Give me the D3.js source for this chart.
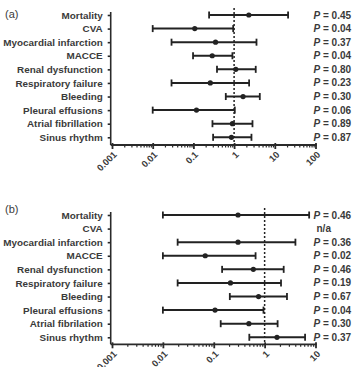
<!DOCTYPE html>
<html>
<head>
<meta charset="utf-8">
<script src="https://cdn.jsdelivr.net/npm/d3@7"></script>
<style>
  html, body { margin: 0; padding: 0; background: #fff; }
  svg { display: block; font-family: "Liberation Sans", Arial, sans-serif; }
  .cat text { font-size: 9.9px; font-weight: bold; fill: #3a3a3a; }
  .xlab { font-size: 9.3px; font-weight: bold; fill: #3a3a3a; }
  .pval { font-size: 10px; font-weight: bold; fill: #3a3a3a; }
  .panel { font-size: 11px; fill: #3a3a3a; }
</style>
</head>
<body>
<div id="chart"></div>
<script>
const W = 359, H = 367;
const CATEGORIES = ["Mortality", "CVA", "Myocardial infarction", "MACCE", "Renal dysfunction",
  "Respiratory failure", "Bleeding", "Pleural effusions", "Atrial fibrillation", "Sinus rhythm"];
const CATEGORIES_B = ["Mortality", "CVA", "Myocardial infarction", "MACCE", "Renal dysfunction",
  "Respiratory failure", "Bleeding", "Pleural effusions", "Atrial fibrilation", "Sinus rhythm"];

// panel (a): odds ratio, lower CI, upper CI
const OR_A = [2.3, 0.108, 0.35, 0.29, 1.1, 0.26, 1.66, 0.119, 0.91, 0.86];
const LO_A = [0.243, 0.01, 0.029, 0.098, 0.38, 0.029, 0.625, 0.01, 0.294, 0.305];
const HI_A = [21.2, 0.95, 3.55, 0.91, 3.4, 2.34, 4.28, 1.04, 2.83, 2.67];
const P_A = ["0.45", "0.04", "0.37", "0.04", "0.80", "0.23", "0.30", "0.06", "0.89", "0.87"];

// panel (b): CVA not available
const OR_B = [0.3, null, 0.3, 0.068, 0.6, 0.213, 0.76, 0.106, 0.49, 1.75];
const LO_B = [0.01, null, 0.0195, 0.01, 0.146, 0.0195, 0.207, 0.01, 0.137, 0.5];
const HI_B = [7.5, null, 4.03, 0.664, 2.37, 2.1, 2.75, 0.95, 1.8, 6.24];
const P_B = ["0.46", null, "0.36", "0.02", "0.46", "0.19", "0.67", "0.04", "0.30", "0.37"];

const TICKS_A = [0.001, 0.01, 0.1, 1, 10, 100];
const TICK_LABELS_A = ["0.001", "0.01", "0.1", "1", "10", "100"];
const TICKS_B = [0.001, 0.01, 0.1, 1, 10];
const TICK_LABELS_B = ["0.001", "0.01", "0.1", "1", "10"];

const svg = d3.select("#chart").append("svg").attr("width", W).attr("height", H);

function minorTicks(domain) {
  const out = [];
  for (let e = Math.log10(domain[0]); e < Math.log10(domain[1]); e++) {
    for (let k = 2; k <= 9; k++) out.push(k * Math.pow(10, e));
  }
  return out;
}

function drawPanel(opt) {
  const g = svg.append("g");
  const x = d3.scaleLog().domain(opt.domain).range([112, 315.5]);
  const y = d3.scalePoint().domain(opt.cats).range(opt.rows);

  // y axis
  const yAxis = g.append("g").attr("class", "cat").attr("transform", `translate(110.7,0)`)
    .call(d3.axisLeft(y).tickSize(3).tickPadding(5));
  yAxis.select(".domain").attr("d", `M0,${opt.axisTop}V${opt.axisY}`);
  yAxis.selectAll("path, line").attr("stroke", "#2a2a2a").attr("stroke-width", 1.6);

  // x axis: minor then major ticks
  const minor = g.append("g").attr("transform", `translate(0,${opt.axisY})`)
    .call(d3.axisBottom(x).tickValues(minorTicks(opt.domain)).tickSize(2.5).tickFormat(""));
  minor.select(".domain").remove();
  minor.selectAll("line").attr("stroke", "#2a2a2a").attr("stroke-width", 1.2);

  const major = g.append("g").attr("transform", `translate(0,${opt.axisY})`)
    .call(d3.axisBottom(x).tickValues(opt.ticks).tickSize(4).tickSizeOuter(0).tickFormat(""));
  major.select(".domain").attr("d", `M110.7,0H${x(opt.domain[1]) + 1}`);
  major.selectAll("path, line").attr("stroke", "#2a2a2a").attr("stroke-width", 1.8);
  major.selectAll("line").attr("y1", -2);

  g.selectAll("text.xlab").data(opt.ticks).enter().append("text")
    .attr("class", "xlab")
    .attr("text-anchor", "end")
    .attr("transform", (d) => `translate(${x(d) + 3},${opt.axisY + 8}) rotate(-45)`)
    .attr("dy", "0.35em")
    .text((d, i) => opt.tickLabels[i]);

  // reference line at 1
  g.append("line")
    .attr("x1", x(1)).attr("x2", x(1))
    .attr("y1", opt.refTop).attr("y2", opt.axisY)
    .attr("stroke", "#222").attr("stroke-width", 1.5).attr("stroke-dasharray", "2,2");

  const rows = opt.cats.map((c, i) => ({ cat: c, or: opt.or[i], lo: opt.lo[i], hi: opt.hi[i], p: opt.p[i] }));
  const bars = rows.filter((r) => r.or != null);

  g.selectAll("line.ci").data(bars).enter().append("line")
    .attr("x1", (r) => x(r.lo)).attr("x2", (r) => x(r.hi))
    .attr("y1", (r) => y(r.cat)).attr("y2", (r) => y(r.cat))
    .attr("stroke", "#222").attr("stroke-width", 2);
  ["lo", "hi"].forEach((k) => {
    g.selectAll(`line.cap-${k}`).data(bars).enter().append("line")
      .attr("x1", (r) => x(r[k])).attr("x2", (r) => x(r[k]))
      .attr("y1", (r) => y(r.cat) - 3.5).attr("y2", (r) => y(r.cat) + 3.5)
      .attr("stroke", "#222").attr("stroke-width", 1.8);
  });
  g.selectAll("circle.pt").data(bars).enter().append("circle")
    .attr("cx", (r) => x(r.or)).attr("cy", (r) => y(r.cat)).attr("r", 2.6)
    .attr("fill", "#222");

  const pt = g.selectAll("text.pval").data(rows).enter().append("text")
    .attr("class", "pval")
    .attr("x", 313.5).attr("y", (r) => y(r.cat)).attr("dy", "0.35em");
  pt.filter((r) => r.p != null).each(function (r) {
    const t = d3.select(this);
    t.append("tspan").attr("font-style", "italic").text("P");
    t.append("tspan").text(" = " + r.p);
  });
  pt.filter((r) => r.p == null).attr("x", 316.5).text("n/a");

  svg.append("text").attr("class", "panel").attr("x", 5).attr("y", opt.labelY).text(opt.label);
}

drawPanel({
  label: "(a)", labelY: 18, cats: CATEGORIES, rows: [15, 137.3], axisTop: 12, axisY: 145, refTop: 8,
  domain: [0.001, 100], ticks: TICKS_A, tickLabels: TICK_LABELS_A,
  or: OR_A, lo: LO_A, hi: HI_A, p: P_A,
});
drawPanel({
  label: "(b)", labelY: 213, cats: CATEGORIES_B, rows: [215, 337.3], axisTop: 212, axisY: 344.3, refTop: 208,
  domain: [0.001, 10], ticks: TICKS_B, tickLabels: TICK_LABELS_B,
  or: OR_B, lo: LO_B, hi: HI_B, p: P_B,
});
</script>
</body>
</html>
